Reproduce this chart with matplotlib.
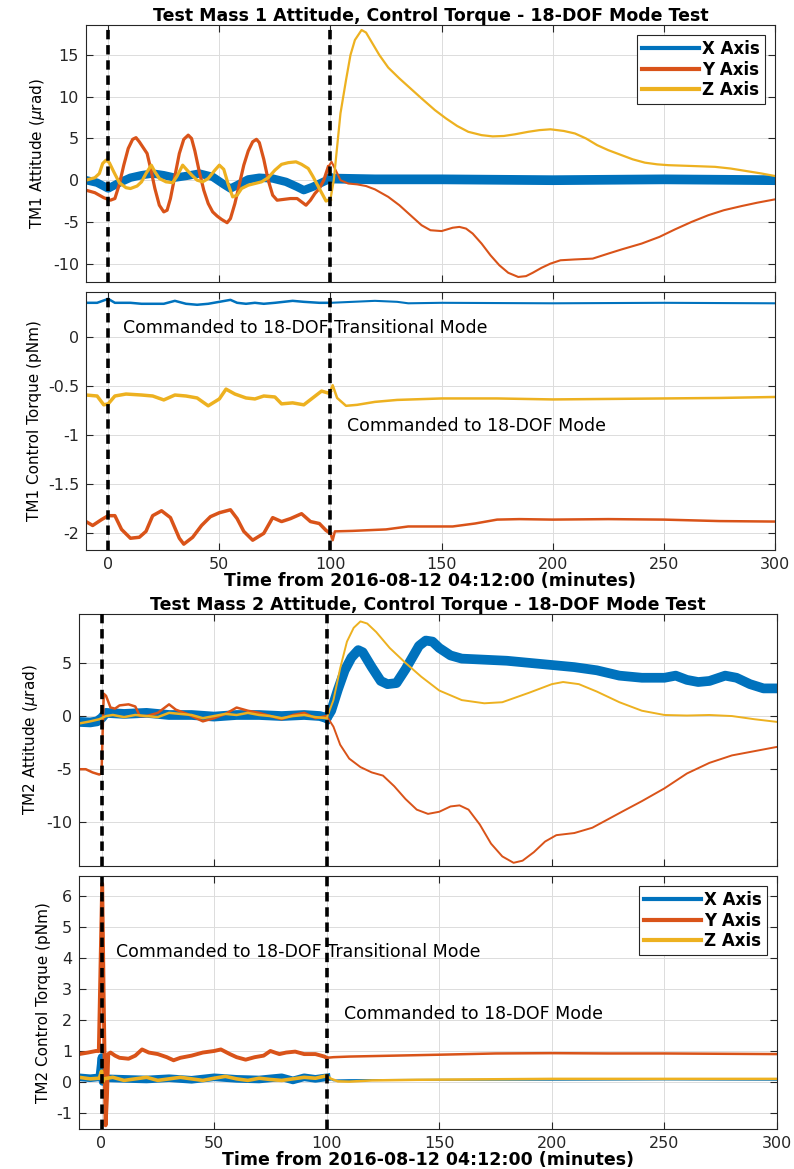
import matplotlib
matplotlib.use("Agg")
import matplotlib.pyplot as plt
from matplotlib.ticker import FuncFormatter

# MATLAB default colours
cx, cy, cz = "#0072BD", "#D95319", "#EDB120"

# ---------- TM1 attitude (urad) ----------
t1_x = [-10, -5, 0, 5, 10, 15, 20, 25, 30, 35, 41, 47, 52, 55, 58, 63, 68, 74, 80, 85, 88, 92, 96, 100,
        120, 150, 200, 250, 300]
v1_x = [0.0, -0.3, -1.0, -0.3, 0.3, 0.6, 0.8, 0.6, 0.3, 0.5, 0.8, 0.4, -0.5, -1.0, -0.6, 0.1, 0.3, 0.2,
        -0.2, -0.8, -1.2, -0.8, -0.3, 0.2, 0.1, 0.1, 0.0, 0.1, 0.0]

t1_y = [-10, -6, -2, 1, 3, 5, 7, 9, 11, 12.5, 14, 16, 17.5, 19, 21, 23, 25, 26.5, 28, 30, 32, 34, 36, 37.5,
        39, 41, 43, 45, 47, 49, 51, 53.5, 55, 57, 59, 61, 63, 65, 66.7, 68, 70, 72, 74, 76, 79, 82, 85, 87,
        89, 91, 93, 95, 97, 99, 100.5, 102, 104.5,
        108, 112, 116, 120, 126, 131, 136, 141, 145, 150, 155, 158, 161, 164, 168, 172, 176, 180, 184.5,
        188, 191, 195, 199, 203.5, 210, 218, 225, 231, 240, 248, 255, 262.5, 270, 277, 285, 292, 300]
v1_y = [-1.2, -1.5, -2.1, -2.4, -2.2, -0.5, 1.8, 3.8, 4.9, 5.1, 4.6, 3.8, 3.2, 1.5, -1.0, -3.0, -3.8, -3.6,
        -2.2, 0.5, 3.2, 4.9, 5.4, 5.0, 3.5, 1.0, -1.2, -2.8, -3.8, -4.3, -4.7, -5.1, -4.6, -2.8, -0.5, 1.8,
        3.5, 4.6, 4.9, 4.5, 2.5, 0.0, -1.8, -2.4, -2.3, -2.2, -2.2, -2.6, -3.0, -2.4, -1.6, -1.0, 0.0, 1.6,
        2.2, 1.4, 0.0,
        -0.4, -0.5, -0.7, -1.1, -2.0, -3.0, -4.2, -5.4, -6.0, -6.1, -5.7, -5.6, -5.8, -6.4, -7.6, -9.0,
        -10.2, -11.1, -11.6, -11.5, -11.1, -10.5, -10.0, -9.6, -9.5, -9.4, -8.8, -8.3, -7.6, -6.8, -5.9,
        -5.0, -4.2, -3.6, -3.1, -2.7, -2.3]

t1_z = [-10, -6, -4, -2.5, -1, 0.5, 2.5, 5, 8, 10, 13, 15, 17, 19.4, 21, 23, 26, 29, 31, 33.5, 35.5, 38, 40,
        42.5, 45, 48, 50, 52, 54, 56, 58, 60, 63, 66, 69, 72, 75, 78, 81, 84.5, 87, 90, 92, 95, 98, 100,
        101.5, 103, 104.5, 107, 109, 111, 114, 116, 118, 122, 126, 131, 136, 141, 147, 152, 157, 162, 168,
        173, 178, 183, 189, 194, 199, 205, 210, 215, 220, 225, 231, 236, 241.5, 247, 252, 262.7, 273, 280,
        287, 294, 300]
v1_z = [0.0, 0.3, 0.8, 2.0, 2.4, 2.1, 1.0, -0.3, -0.9, -1.0, -0.7, -0.2, 0.8, 1.8, 1.0, 0.2, -0.2, -0.3,
        0.5, 1.8, 1.2, 0.5, 0.0, -0.2, 0.2, 1.2, 1.8, 1.3, -0.5, -2.0, -1.8, -1.0, -0.6, -0.4, -0.2, 0.3,
        1.2, 1.9, 2.1, 2.2, 1.9, 1.4, 0.5, -1.0, -2.5, -2.3,
        0.0, 4.0, 8.0, 12.0, 15.0, 16.8, 18.0, 17.7, 16.8, 15.0, 13.5, 12.2, 11.0, 9.8, 8.4, 7.4, 6.5, 5.8,
        5.4, 5.25, 5.3, 5.5, 5.8, 6.0, 6.1, 5.9, 5.6, 5.0, 4.2, 3.6, 3.0, 2.5, 2.1, 1.9, 1.8, 1.7, 1.6,
        1.4, 1.1, 0.8, 0.5]

# ---------- TM1 control torque (pNm) ----------
t2_x = [-10, -5, 0, 3, 10, 15, 20, 25, 30, 35, 40, 45, 50, 55, 58, 62, 66, 70, 75, 83, 88, 95, 100,
        110, 120, 130, 135, 150, 200, 250, 300]
v2_x = [0.35, 0.35, 0.39, 0.35, 0.35, 0.34, 0.34, 0.34, 0.37, 0.34, 0.33, 0.34, 0.36, 0.38, 0.35, 0.34,
        0.35, 0.34, 0.35, 0.37, 0.36, 0.35, 0.35, 0.36, 0.37, 0.36, 0.345, 0.35, 0.345, 0.35, 0.345]

t2_y = [-10, -7, -3, 0, 3, 6, 10, 14, 17, 20, 24, 28, 32, 34, 38, 42, 46, 50, 55, 58, 61, 65, 70, 74, 78,
        82, 87, 91, 95, 98, 100, 101, 102, 110, 125, 135, 155, 165, 175, 185, 200, 225, 250, 275, 300]
v2_y = [-1.88, -1.92, -1.86, -1.82, -1.82, -1.96, -2.05, -2.04, -1.98, -1.82, -1.77, -1.84, -2.05, -2.11,
        -2.04, -1.92, -1.83, -1.79, -1.76, -1.85, -1.98, -2.07, -2.0, -1.84, -1.88, -1.85, -1.80, -1.88,
        -1.9, -1.97, -2.0, -2.07, -1.98, -1.975, -1.96, -1.93, -1.93, -1.9, -1.86, -1.855, -1.86, -1.855,
        -1.86, -1.875, -1.88]

t2_z = [-10, -5, -2, 0, 3, 8, 15, 20, 25, 30, 35, 40, 45, 50, 53, 57, 62, 66, 70, 75, 78, 83, 88, 92, 96,
        99, 100, 101, 103, 107, 112, 120, 130, 150, 175, 200, 225, 250, 275, 300]
v2_z = [-0.59, -0.60, -0.69, -0.68, -0.60, -0.58, -0.59, -0.60, -0.64, -0.59, -0.60, -0.62, -0.70, -0.63,
        -0.53, -0.58, -0.62, -0.63, -0.60, -0.61, -0.68, -0.67, -0.69, -0.62, -0.55, -0.57, -0.55, -0.49,
        -0.62, -0.70, -0.69, -0.66, -0.64, -0.625, -0.625, -0.635, -0.63, -0.625, -0.62, -0.61]

# ---------- TM2 attitude (urad) ----------
t3_x = [-10, -5, -2, 0, 2, 10, 20, 30, 40, 50, 60, 70, 80, 90, 97, 100, 102, 105, 108, 111, 114, 116, 120,
        124, 127, 131, 135, 138, 141, 144, 147, 150, 155, 160, 170, 180, 190, 200, 210, 220, 230, 240, 250,
        255, 260, 265, 270, 277, 282, 288, 294, 300]
v3_x = [-0.55, -0.6, -0.5, -0.2, 0.3, 0.2, 0.3, 0.1, 0.1, -0.05, 0.1, 0.1, 0.0, 0.1, 0.0, -0.2, 0.5, 2.5,
        4.3, 5.5, 6.2, 6.0, 4.6, 3.3, 3.0, 3.1, 4.4, 5.5, 6.6, 7.1, 7.0, 6.4, 5.7, 5.4, 5.3, 5.2, 5.0, 4.8,
        4.6, 4.3, 3.8, 3.6, 3.6, 3.8, 3.4, 3.2, 3.3, 3.8, 3.6, 3.0, 2.6, 2.6]

t3_y = [-10, -7, -4, -1, 0, 0.7, 1, 2, 4, 6, 8, 12, 15, 17, 20, 25, 30, 33, 38, 45, 50, 55, 60, 65, 70, 75,
        80, 85, 90, 95, 100, 103, 106, 110, 115, 120, 125, 130, 135, 140, 145, 150, 155, 159, 163, 168, 173,
        178, 183, 187, 192, 197, 202, 210, 218, 225, 232, 240, 250, 260, 270, 280, 290, 300]
v3_y = [-5.0, -5.0, -5.3, -5.5, -5.4, 0.0, 2.1, 1.9, 0.8, 0.7, 1.0, 1.1, 0.9, 0.0, 0.0, 0.3, 1.1, 0.6, 0.2,
        -0.5, -0.2, 0.2, 0.8, 0.5, 0.3, 0.0, -0.3, 0.1, 0.3, -0.2, 0.0, -1.0, -2.7, -4.0, -4.8, -5.3, -5.6,
        -6.6, -7.8, -8.8, -9.2, -9.0, -8.5, -8.4, -8.8, -10.2, -12.0, -13.2, -13.8, -13.6, -12.8, -11.8,
        -11.2, -11.0, -10.5, -9.7, -8.9, -8.0, -6.8, -5.4, -4.4, -3.7, -3.3, -2.9]

t3_z = [-10, -5, -1, 2, 5, 10, 15, 20, 25, 30, 35, 40, 45, 50, 55, 60, 65, 70, 75, 80, 85, 90, 95, 100, 103,
        106, 109, 112, 115, 118, 122, 128, 135, 142, 150, 160, 170, 178, 190, 200, 205, 212, 220, 230, 240,
        250, 260, 270, 280, 290, 300]
v3_z = [-0.7, -0.5, -0.3, 0.0, 0.1, -0.1, 0.1, 0.0, -0.1, 0.3, 0.2, 0.1, -0.2, 0.0, 0.2, 0.1, 0.3, 0.1, 0.0,
        -0.2, 0.0, 0.1, -0.1, -0.2, 1.5, 4.5, 7.0, 8.3, 8.9, 8.7, 7.9, 6.4, 5.0, 3.7, 2.4, 1.5, 1.2, 1.3, 2.2,
        3.0, 3.2, 3.0, 2.3, 1.3, 0.5, 0.1, 0.05, 0.1, 0.0, -0.3, -0.55]

# ---------- TM2 control torque (pNm) ----------
t4_x = [-10, -5, -1, 0, 0.5, 1, 10, 20, 30, 40, 50, 60, 70, 80, 85, 90, 95, 100, 103, 110, 150, 200, 250, 300]
v4_x = [0.15, 0.12, 0.15, 0.8, 0.0, 0.12, 0.1, 0.08, 0.12, 0.07, 0.15, 0.1, 0.08, 0.15, 0.05, 0.15, 0.1,
        0.15, 0.05, 0.06, 0.07, 0.07, 0.08, 0.07]

t4_y = [-10, -6, -2.5, -1.2, 0.3, 1.0, 1.8, 2.4, 3.0, 4, 6, 8, 12, 15, 18, 21, 25, 29, 32, 35, 40, 45, 50, 53,
        57, 60, 64, 68, 72, 75, 79, 82, 86, 90, 95, 99, 100, 103, 110, 130, 150, 175, 200, 225, 250, 275, 300]
v4_y = [0.9, 0.95, 1.0, 1.0, 6.4, 2.5, -1.4, -0.5, 0.9, 0.95, 0.85, 0.78, 0.75, 0.85, 1.05, 0.95, 0.9, 0.8,
        0.7, 0.78, 0.85, 0.95, 1.0, 1.05, 0.9, 0.8, 0.72, 0.8, 0.85, 1.0, 0.9, 0.95, 0.98, 0.9, 0.9, 0.82,
        0.78, 0.8, 0.82, 0.85, 0.88, 0.92, 0.93, 0.92, 0.92, 0.91, 0.9]

t4_z = [-10, -5, -1, 0, 0.5, 1, 5, 10, 15, 20, 25, 30, 35, 40, 45, 50, 55, 60, 65, 70, 75, 80, 85, 90, 95,
        100, 102, 105, 110, 120, 140, 160, 200, 250, 300]
v4_z = [0.15, 0.1, 0.12, 0.35, 0.0, 0.1, 0.15, 0.05, 0.1, 0.15, 0.05, 0.1, 0.15, 0.1, 0.05, 0.12, 0.18, 0.1,
        0.05, 0.12, 0.08, 0.05, 0.1, 0.15, 0.12, 0.2, 0.1, 0.02, 0.01, 0.05, 0.07, 0.08, 0.1, 0.1, 0.1]

labels = ["X Axis", "Y Axis", "Z Axis"]
xlabel = "Time from 2016-08-12 04:12:00 (minutes)"
note1 = "Commanded to 18-DOF Transitional Mode"
note2 = "Commanded to 18-DOF Mode"
events = [0, 100]

plt.rcParams["font.family"] = "DejaVu Sans"
fig = plt.figure(figsize=(7.94, 11.69), dpi=100)


def style(ax, yticks, ylim, xlab):
    ax.set_xlim(-10, 300)
    ax.set_ylim(*ylim)
    ax.set_xticks([0, 50, 100, 150, 200, 250, 300])
    ax.set_yticks(yticks)
    ax.yaxis.set_major_formatter(FuncFormatter(lambda v, p: "%g" % v))
    ax.grid(True, color="#dcdcdc", lw=0.7)
    ax.set_axisbelow(True)
    ax.tick_params(direction="in", top=True, right=True, length=5, width=0.8,
                   labelsize=11.5, colors="#262626", pad=5)
    for s in ax.spines.values():
        s.set_color("#262626")
        s.set_linewidth(0.8)
    if xlab:
        ax.set_xlabel(xlabel, fontsize=12.5, fontweight="bold", labelpad=0)
    else:
        ax.tick_params(labelbottom=False)
    for e in events:
        ax.axvline(e, color="black", ls="--", lw=2.6, dashes=(2.6, 1.6), zorder=5)


def series(ax, t, v, color, lab, w_pre, w_post):
    # data before the 18-DOF command is noisier, drawn heavier
    k = max(i for i, tt in enumerate(t) if tt <= events[1])
    ax.plot(t[:k + 1], v[:k + 1], color=color, lw=w_pre, label=lab)
    ax.plot(t[k:], v[k:], color=color, lw=w_post)


def draw(ax, data, widths):
    for (t, v), c, lab, (w1, w2) in zip(data, [cx, cy, cz], labels, widths):
        series(ax, t, v, c, lab, w1, w2)


def legend(ax):
    leg = ax.legend(loc="upper right", fancybox=False, framealpha=1, edgecolor="#262626",
                    prop={"weight": "bold", "size": 12}, handlelength=3.4, handletextpad=0.2,
                    borderaxespad=0.6, labelspacing=0.15, borderpad=0.3)
    leg.get_frame().set_linewidth(0.8)
    for h in leg.get_lines():
        h.set_linewidth(3)


# panel 1
ax1 = fig.add_axes([0.1083, 0.7588, 0.8677, 0.2198])
draw(ax1, [(t1_x, v1_x), (t1_y, v1_y), (t1_z, v1_z)], [(6.0, 7.0), (2.3, 1.5), (2.3, 1.6)])
style(ax1, [-10, -5, 0, 5, 10, 15], (-12.2, 18.6), False)
ax1.set_ylabel(r"TM1 Attitude ($\mu$rad)", fontsize=11)
ax1.set_title("Test Mass 1 Attitude, Control Torque - 18-DOF Mode Test", fontsize=12.5,
              fontweight="bold", pad=3)
legend(ax1)

# panel 2
ax2 = fig.add_axes([0.1083, 0.5295, 0.8677, 0.2207])
draw(ax2, [(t2_x, v2_x), (t2_y, v2_y), (t2_z, v2_z)], [(1.8, 1.5), (2.5, 1.8), (2.5, 1.8)])
style(ax2, [-2, -1.5, -1, -0.5, 0], (-2.17, 0.46), True)
ax2.set_ylabel("TM1 Control Torque (pNm)", fontsize=11)
ax2.text(6.5, 0.09, note1, fontsize=12.5, va="center", ha="left")
ax2.text(107.5, -0.91, note2, fontsize=12.5, va="center", ha="left")

# panel 3
ax3 = fig.add_axes([0.0995, 0.2592, 0.8791, 0.2156])
draw(ax3, [(t3_x, v3_x), (t3_y, v3_y), (t3_z, v3_z)], [(7.0, 7.0), (1.8, 1.4), (1.8, 1.4)])
style(ax3, [-10, -5, 0, 5], (-14.1, 9.6), False)
ax3.set_ylabel(r"TM2 Attitude ($\mu$rad)", fontsize=11)
ax3.set_title("Test Mass 2 Attitude, Control Torque - 18-DOF Mode Test", fontsize=12.5,
              fontweight="bold", pad=2)

# panel 4
ax4 = fig.add_axes([0.0995, 0.0342, 0.8791, 0.2164])
draw(ax4, [(t4_x, v4_x), (t4_y, v4_y), (t4_z, v4_z)], [(5.5, 1.4), (2.8, 1.8), (2.6, 1.8)])
style(ax4, [-1, 0, 1, 2, 3, 4, 5, 6], (-1.52, 6.65), True)
ax4.set_ylabel("TM2 Control Torque (pNm)", fontsize=11)
ax4.text(6.4, 4.2, note1, fontsize=12.5, va="center", ha="left")
ax4.text(107.7, 2.19, note2, fontsize=12.5, va="center", ha="left")
legend(ax4)

fig.savefig("out.png", dpi=100)
